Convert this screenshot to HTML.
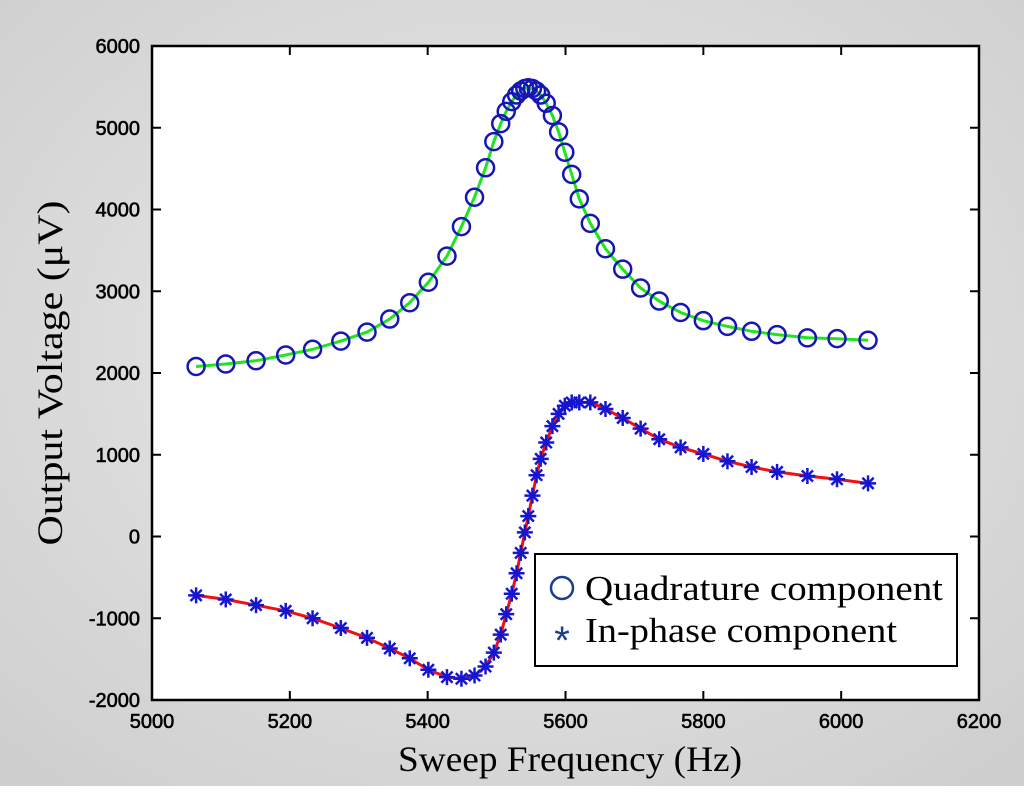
<!DOCTYPE html>
<html><head><meta charset="utf-8"><style>
html,body{margin:0;padding:0;background:#fff}
svg{display:block}
</style></head><body>
<svg width="1024" height="801" viewBox="0 0 1024 801" xmlns="http://www.w3.org/2000/svg">
<defs>
<radialGradient id="bg" cx="50%" cy="45%" r="70%">
<stop offset="0" stop-color="#ececec"/><stop offset="1" stop-color="#cfcfcf"/>
</radialGradient>
</defs>
<rect x="0" y="0" width="1024" height="786" fill="url(#bg)"/>
<rect x="152" y="46" width="827" height="654" fill="#fff"/>
<g id="series"></g>
<rect x="152" y="46" width="827" height="654" fill="none" stroke="#000" stroke-width="2.5"/>
<g id="axes" font-family="Liberation Sans, sans-serif" font-size="20" fill="#000" stroke="#000" stroke-width="0.6"></g>
<text x="570" y="771" font-family="Liberation Serif, serif" font-size="36" text-anchor="middle" textLength="344" lengthAdjust="spacingAndGlyphs">Sweep Frequency (Hz)</text>
<text transform="translate(62,373) rotate(-90)" font-family="Liberation Serif, serif" font-size="36" text-anchor="middle" textLength="345" lengthAdjust="spacingAndGlyphs">Output Voltage (μV)</text>
<g>
<rect x="535" y="554" width="422" height="112" fill="#fff" stroke="#000" stroke-width="2"/>
<circle cx="562" cy="588" r="11" fill="none" stroke="#1a3d8f" stroke-width="2.5"/>
<text x="585" y="600" font-family="Liberation Serif, serif" font-size="35" textLength="358" lengthAdjust="spacingAndGlyphs">Quadrature component</text>
<text x="562" y="654" font-family="Liberation Sans, sans-serif" font-size="40" fill="#1a3d8f" text-anchor="middle">*</text>
<text x="585" y="642" font-family="Liberation Serif, serif" font-size="35" textLength="312" lengthAdjust="spacingAndGlyphs">In-phase component</text>
</g>
</svg>
<script>
const freqs=[5064,5107,5151,5194,5233,5274,5312,5345,5374,5401,5428,5449,5468,5484,5496,5506,5514,5522,5529,5535,5541,5546,5552,5558,5564,5572,5581,5590,5599,5609,5620,5636,5658,5683,5709,5736,5767,5800,5835,5870,5907,5951,5994,6039];
const quadrature=[2080,2110,2150,2220,2290,2390,2500,2660,2860,3110,3430,3790,4150,4510,4830,5050,5200,5320,5400,5450,5480,5490,5480,5450,5400,5300,5150,4950,4700,4430,4130,3830,3520,3270,3040,2880,2740,2640,2570,2510,2470,2430,2420,2400];
const inphase=[-720,-770,-840,-910,-1000,-1120,-1240,-1370,-1490,-1630,-1720,-1740,-1700,-1590,-1420,-1200,-950,-700,-450,-200,50,250,500,750,950,1150,1350,1500,1600,1640,1640,1640,1560,1450,1320,1190,1090,1010,920,850,790,740,700,650];
const xTicks=[5000,5200,5400,5600,5800,6000,6200];
const yTicks=[-2000,-1000,0,1000,2000,3000,4000,5000,6000];
const X0=152,X1=979,Y0=700,Y1=46;
const xs=v=>X0+(v-5000)/1200*(X1-X0);
const ys=v=>Y0-(v+2000)/8000*(Y0-Y1);
const NS='http://www.w3.org/2000/svg';
function mk(t,a,p){const e=document.createElementNS(NS,t);for(const k in a)e.setAttribute(k,a[k]);p.appendChild(e);return e;}
const axes=document.getElementById('axes'),ser=document.getElementById('series');
xTicks.forEach(v=>{const x=xs(v);
 const t1=mk('line',{x1:x,x2:x,y1:Y0,y2:Y0-9,stroke:'#000','stroke-width':2},axes);
 
 
 const t2=mk('line',{x1:x,x2:x,y1:Y1,y2:Y1+9,stroke:'#000','stroke-width':2},axes);
 
 
 const l=mk('text',{x:x,y:Y0+28,'text-anchor':'middle'},axes);l.textContent=v;
 
 
});
yTicks.forEach(v=>{const y=ys(v);
 const t1=mk('line',{x1:X0,x2:X0+9,y1:y,y2:y,stroke:'#000','stroke-width':2},axes);
 
 
 const t2=mk('line',{x1:X1,x2:X1-9,y1:y,y2:y,stroke:'#000','stroke-width':2},axes);
 
 
 const l=mk('text',{x:X0-12,y:y+7,'text-anchor':'end'},axes);l.textContent=v;
 
 
});
function path(vals){return vals.map((v,i)=>(i?'L':'M')+xs(freqs[i]).toFixed(1)+','+ys(v).toFixed(1)).join('');}
const gl=mk('path',{d:path(quadrature),fill:'none',stroke:'#1ee61e','stroke-width':3},ser);


const rl=mk('path',{d:path(inphase),fill:'none',stroke:'#ee1111','stroke-width':3},ser);


quadrature.forEach((v,i)=>{const c=mk('circle',{cx:xs(freqs[i]),cy:ys(v),r:8.5,fill:'none',stroke:'#1616b4','stroke-width':2.5},ser);
 
 
});
inphase.forEach((v,i)=>{const x=xs(freqs[i]),y=ys(v),r=8;
 const g=mk('g',{stroke:'#1616d0','stroke-width':2.5},ser);
 
 
 mk('line',{x1:x-r,x2:x+r,y1:y,y2:y},g);
 mk('line',{x1:x,x2:x,y1:y-r,y2:y+r},g);
 mk('line',{x1:x-r*0.7,x2:x+r*0.7,y1:y-r*0.7,y2:y+r*0.7},g);
 mk('line',{x1:x-r*0.7,x2:x+r*0.7,y1:y+r*0.7,y2:y-r*0.7},g);
});
</script>
</body></html>
